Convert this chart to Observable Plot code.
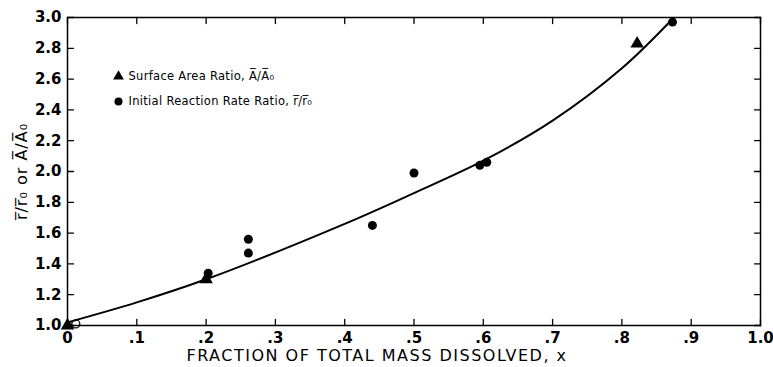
<!DOCTYPE html>
<html>
<head>
<meta charset="utf-8">
<script src="https://cdn.jsdelivr.net/npm/d3@7"></script>
<script src="https://cdn.jsdelivr.net/npm/@observablehq/plot@0.6"></script>
<style>
  html, body { margin: 0; padding: 0; background: #fff; }
  #chart svg { display: block; }
</style>
</head>
<body>
<div id="chart"></div>
<script>
// Tick values and labels
const xTicks = [0, 0.1, 0.2, 0.3, 0.4, 0.5, 0.6, 0.7, 0.8, 0.9, 1.0];
const xTickLabels = ["0", ".1", ".2", ".3", ".4", ".5", ".6", ".7", ".8", ".9", "1.0"];
const yTicks = [1.0, 1.2, 1.4, 1.6, 1.8, 2.0, 2.2, 2.4, 2.6, 2.8, 3.0];
const yTickLabels = ["1.0", "1.2", "1.4", "1.6", "1.8", "2.0", "2.2", "2.4", "2.6", "2.8", "3.0"];

// Surface area ratio (triangles)
const areaX = [0.0, 0.2, 0.822];
const areaY = [1.0, 1.30, 2.83];

// Initial reaction rate ratio (filled circles)
const rateX = [0.203, 0.261, 0.261, 0.44, 0.50, 0.595, 0.605, 0.873];
const rateY = [1.34, 1.56, 1.47, 1.65, 1.99, 2.04, 2.06, 2.97];

// Open circle near origin
const openX = [0.012];
const openY = [1.01];

// Fitted curve
const curveX = [0.0, 0.1, 0.2, 0.4, 0.5, 0.6, 0.7, 0.8, 0.873];
const curveY = [1.02, 1.15, 1.30, 1.66, 1.86, 2.07, 2.33, 2.67, 2.99];

// Legend entries
const legendLabels = ["Surface Area Ratio, A\u0305/A\u0305\u2080", "Initial Reaction Rate Ratio, r\u0305/r\u0305\u2080"];
const legendSymbols = ["triangle", "circle"];

const xLabel = "FRACTION OF TOTAL MASS DISSOLVED, x";
const yLabel = "r\u0305/r\u0305\u2080 or A\u0305/A\u0305\u2080";

const area = areaX.map((x, i) => ({x, y: areaY[i]}));
const rate = rateX.map((x, i) => ({x, y: rateY[i]}));
const open = openX.map((x, i) => ({x, y: openY[i]}));
const curve = curveX.map((x, i) => ({x, y: curveY[i]}));
const legend = legendLabels.map((label, i) => ({label, symbol: legendSymbols[i], i}));

const tickShape = {draw(ctx, l) { ctx.moveTo(0, 0); ctx.lineTo(0, -l); }};
const FONT = "DejaVu Sans, sans-serif";

const chart = Plot.plot({
  width: 773,
  height: 367,
  marginLeft: 67,
  marginRight: 13,
  marginTop: 17,
  marginBottom: 42,
  style: {fontFamily: FONT, background: "#fff", color: "#000"},
  x: {domain: [0, 1]},
  y: {domain: [1, 3]},
  symbol: {type: "identity"},
  marks: [
    Plot.axisX({
      ticks: xTicks, tickFormat: (d, i) => xTickLabels[i], tickSize: 0, tickPadding: 7,
      fontSize: 15, label: null
    }),
    Plot.text([xLabel], {frameAnchor: "bottom", lineAnchor: "middle", dx: -37, dy: 30, fontSize: 16, fill: "#000"}),
    Plot.axisY({
      ticks: yTicks, tickFormat: (d, i) => yTickLabels[i], tickSize: 0, tickPadding: 6,
      fontSize: 15, label: yLabel, labelAnchor: "center", labelArrow: "none", labelOffset: 52
    }),
    Plot.frame({stroke: "#000", strokeWidth: 1.5}),
    // inward ticks on all four sides
    Plot.vector(xTicks, {x: d => d, frameAnchor: "bottom", anchor: "start", length: 6, rotate: 0, shape: tickShape, stroke: "#000", strokeWidth: 1.3}),
    Plot.vector(xTicks, {x: d => d, frameAnchor: "top", anchor: "start", length: 6, rotate: 180, shape: tickShape, stroke: "#000", strokeWidth: 1.3}),
    Plot.vector(yTicks, {y: d => d, frameAnchor: "left", anchor: "start", length: 6, rotate: 90, shape: tickShape, stroke: "#000", strokeWidth: 1.3}),
    Plot.vector(yTicks, {y: d => d, frameAnchor: "right", anchor: "start", length: 6, rotate: -90, shape: tickShape, stroke: "#000", strokeWidth: 1.3}),
    // fitted curve
    Plot.line(curve, {x: "x", y: "y", curve: "catmull-rom", stroke: "#000", strokeWidth: 2}),
    // data
    Plot.dot(area, {x: "x", y: "y", symbol: "triangle", fill: "#000", r: 5}),
    Plot.dot(rate, {x: "x", y: "y", symbol: "circle", fill: "#000", r: 4.5}),
    Plot.dot(open, {x: "x", y: "y", symbol: "circle", stroke: "#000", fill: "none", r: 4, strokeWidth: 1.3}),
    // legend
    ...legend.map(d => Plot.dot([d], {frameAnchor: "top-left", dx: 51, dy: 59 + d.i * 25, symbol: "symbol", fill: "#000", r: 4})),
    ...legend.map(d => Plot.text([d], {frameAnchor: "top-left", lineAnchor: "middle", dx: 61, dy: 59 + d.i * 25, text: "label", textAnchor: "start", fontSize: 11.5, fill: "#000"}))
  ]
});

const svg = d3.select(chart);
svg.selectAll('[aria-label="x-axis tick label"] text, [aria-label="y-axis tick label"] text')
  .style("font-weight", "bold");
svg.selectAll('[aria-label="y-axis label"] text')
  .style("font-size", "16px").style("letter-spacing", "1px");
svg.selectAll('[aria-label="text"] text').style("letter-spacing", "0.3px");
// x-axis title letter spacing
svg.selectAll('[aria-label="text"] text').filter(function () { return this.textContent === xLabel; })
  .style("letter-spacing", "1.5px");

document.getElementById("chart").appendChild(chart);
</script>
</body>
</html>
